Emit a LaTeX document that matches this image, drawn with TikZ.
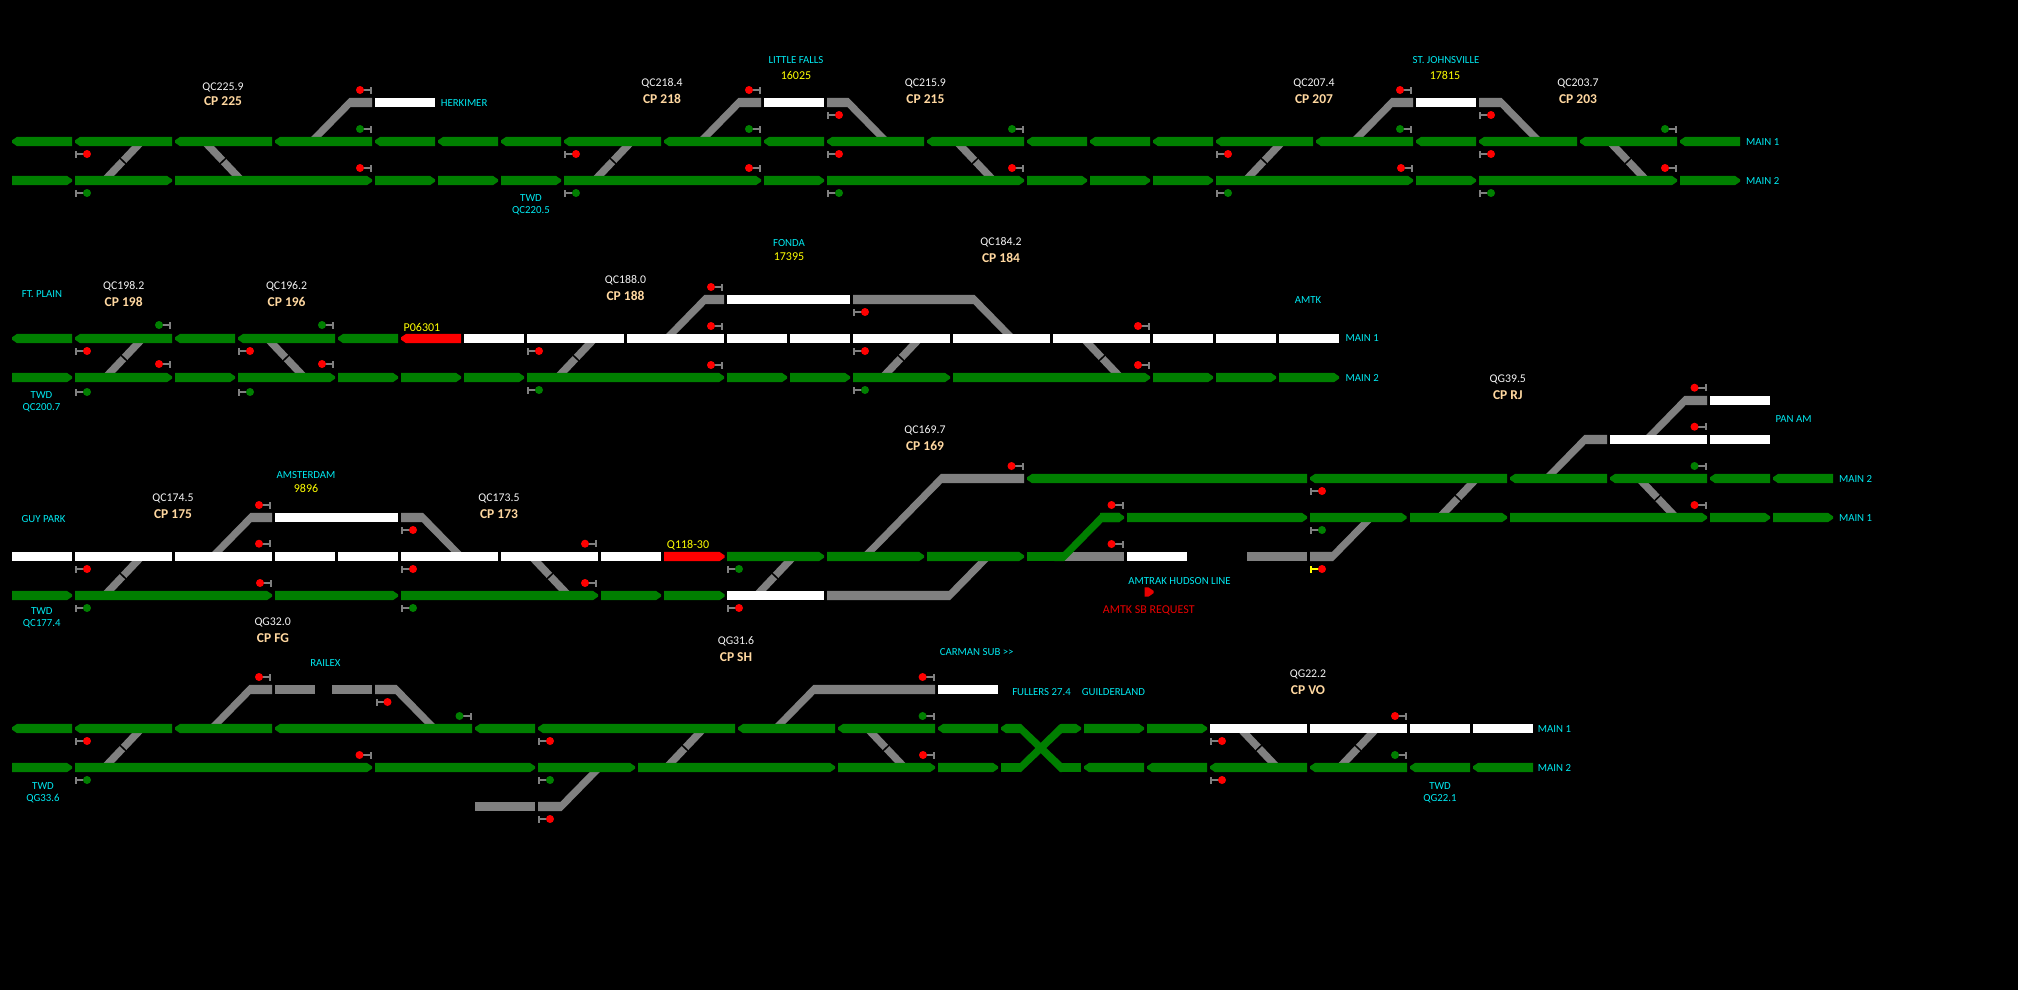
\documentclass[tikz,border=0pt]{standalone}
\usepackage{fontspec}
\setmainfont{Carlito}
\definecolor{tg}{HTML}{007F00}
\definecolor{tgy}{HTML}{808080}
\definecolor{trd}{HTML}{FF0000}
\definecolor{tw}{HTML}{FFFFFF}
\definecolor{labcy}{HTML}{00E8F0}
\definecolor{labcp}{HTML}{FFD8A0}
\definecolor{labyl}{HTML}{FFFF00}
\definecolor{labqc}{HTML}{F4F4F4}
\definecolor{labrd}{HTML}{E80000}
\newcommand\tL[4]{\fill[#4] (#1,#3-1.2)--(#1+5,#3-4.6)--(#2,#3-4.6)--(#2,#3+4.6)--(#1+5,#3+4.6)--(#1,#3+1.2)--cycle;}
\newcommand\tR[4]{\fill[#4] (#1,#3-4.6)--(#2-5,#3-4.6)--(#2,#3-1.2)--(#2,#3+1.2)--(#2-5,#3+4.6)--(#1,#3+4.6)--cycle;}
\newcommand\tF[4]{\fill[#4] (#1,#3-4.6) rectangle (#2,#3+4.6);}
\newcommand\xoF[2]{\draw[xov] (#1-18.5,#2+19.5)--(#1+18.5,#2-19.5); \draw[xgap] (#1-3,#2-2.85)--(#1+3,#2+2.85);}
\newcommand\xoB[2]{\draw[xov] (#1-18.5,#2-19.5)--(#1+18.5,#2+19.5); \draw[xgap] (#1-3,#2+2.85)--(#1+3,#2-2.85);}
% flat to the right, diagonal down-left to main
\newcommand\sUL[5]{\fill[#5] (#1-.98*#3+.98*#2-5,#3)--(#1-.6,#2-4.6)--(#4,#2-4.6)--(#4,#2+4.6)--(#1+.6,#2+4.6)--(#1-.98*#3+.98*#2+5,#3)--cycle;}
% flat to the left, diagonal down-right to main
\newcommand\sUR[5]{\fill[#5] (#4,#2-4.6)--(#1+.6,#2-4.6)--(#1+.98*#3-.98*#2+5,#3)--(#1+.98*#3-.98*#2-5,#3)--(#1-.6,#2+4.6)--(#4,#2+4.6)--cycle;}
% flat to the left, diagonal up-right to main
\newcommand\sDR[5]{\fill[#5] (#4,#2+4.6)--(#1+.6,#2+4.6)--(#1+.98*#2-.98*#3+5,#3)--(#1+.98*#2-.98*#3-5,#3)--(#1-.6,#2-4.6)--(#4,#2-4.6)--cycle;}
\newcommand\sigR[4]{\fill[#4] (#1,#2-3.5) rectangle (#1+2,#2+3.5); \fill[#4] (#1,#2-1) rectangle (#1+10,#2+1); \fill[#3] (#1+12,#2) circle[radius=4pt];}
\newcommand\sigL[4]{\fill[#4] (#1-2,#2-3.5) rectangle (#1,#2+3.5); \fill[#4] (#1-10,#2-1) rectangle (#1,#2+1); \fill[#3] (#1-12,#2) circle[radius=4pt];}
\tikzset{
  xov/.style={tgy,line width=7.5pt},
  xgap/.style={black,line width=1.5pt},
  lcy/.style={labcy,inner sep=0pt,font=\fontsize{10.8}{12}\selectfont},
  lcyw/.style={lcy,anchor=west},
  lyl/.style={labyl,inner sep=0pt,font=\fontsize{12}{13}\selectfont},
  lqc/.style={labqc,inner sep=0pt,font=\fontsize{11.8}{13}\selectfont},
  lcp/.style={labcp,inner sep=0pt,font=\bfseries\fontsize{13.5}{14}\selectfont},
  lrd/.style={labrd,inner sep=0pt,font=\fontsize{12}{13}\selectfont},
}
\begin{document}
\begin{tikzpicture}[x=1pt,y=-1pt]
\useasboundingbox (0,0) rectangle (2018,989);
\fill[black] (-6,-6) rectangle (2024,995);
%% ROW 1
\foreach \m in {123,613,1264} {\xoF{\m}{161}}
\foreach \m in {223,975,1628} {\xoB{\m}{161}}
\sUL{350}{102.5}{141.5}{372}{tgy}
\sUL{739}{102.5}{141.5}{761}{tgy}
\sUR{848}{102.5}{141.5}{827}{tgy}
\sUL{1392}{102.5}{141.5}{1413}{tgy}
\sUR{1501}{102.5}{141.5}{1479}{tgy}
\foreach \a/\b in {375/435,764/824,1416/1476} {\tF{\a}{\b}{102.5}{tw}}
\foreach \a/\b in {12/72,75/172,175/272,275/372,375/435,438/498,501/561,564/661,664/761,764/824,827/924,927/1024,1027/1087,1090/1150,1153/1213,1216/1313,1316/1413,1416/1476,1479/1577,1580/1677,1680/1740} {\tL{\a}{\b}{141.5}{tg}}
\foreach \a/\b in {12/72,75/172,175/372,375/435,438/498,501/561,564/761,764/824,827/1024,1027/1087,1090/1150,1153/1213,1216/1413,1416/1476,1479/1677,1680/1740} {\tR{\a}{\b}{180.5}{tg}}
\foreach \x in {372,761,1412} {\sigL{\x}{90}{trd}{tgy}}
\foreach \x in {827,1479} {\sigR{\x}{115}{trd}{tgy}}
\foreach \x in {372,761,1024,1412,1677} {\sigL{\x}{129}{tg}{tgy}}
\foreach \x in {75,564,827,1216,1479} {\sigR{\x}{154}{trd}{tgy}}
\foreach \x in {372,761,1024,1413,1677} {\sigL{\x}{168}{trd}{tgy}}
\foreach \x in {75,564,827,1216,1479} {\sigR{\x}{193}{tg}{tgy}}
\node[lqc] (qa1) at (223,87) {QC225.9};
\node[lcp] (cpa1) at (223,100.7) {CP 225};
\node[lcyw] (herk) at (440.6,103) {HERKIMER};
\node[lqc] (qa2) at (662,83) {QC218.4};
\node[lcp] (cpa2) at (662,98.7) {CP 218};
\node[lcy] (lfalls) at (796,59.7) {LITTLE FALLS};
\node[lyl] (nlf) at (796,75) {16025};
\node[lqc] (qa3) at (925.4,83) {QC215.9};
\node[lcp] (cpa3) at (925.4,98.7) {CP 215};
\node[lqc] (qa4) at (1314,83) {QC207.4};
\node[lcp] (cpa4) at (1314,98.7) {CP 207};
\node[lcy] (stj) at (1446,59.7) {ST. JOHNSVILLE};
\node[lyl] (nstj) at (1445,75) {17815};
\node[lqc] (qa5) at (1578,83) {QC203.7};
\node[lcp] (cpa5) at (1578,98.7) {CP 203};
\node[lcy] (twa) at (531,197.7) {TWD};
\node[lcy] (twaq) at (531,210.7) {QC220.5};
\node[lcyw] (ma1) at (1746,142.3) {MAIN 1};
\node[lcyw] (ma2) at (1746,181.3) {MAIN 2};
%% ROW 2
\foreach \m in {124,576,901} {\xoF{\m}{358}}
\foreach \m in {286,1102} {\xoB{\m}{358}}
\sUL{705}{299.5}{338.5}{724}{tgy}
\sUR{974}{299.5}{338.5}{853}{tgy}
\tF{727}{850}{299.5}{tw}
\foreach \a/\b in {12/72,75/172,175/235,238/335,338/398} {\tL{\a}{\b}{338.5}{tg}}
\tL{401}{461}{338.5}{trd}
\foreach \a/\b in {464/524,527/624,627/724,727/787,790/850,853/950,953/1050,1053/1150,1153/1213,1216/1276,1279/1339} {\tF{\a}{\b}{338.5}{tw}}
\foreach \a/\b in {12/72,75/172,175/235,238/335,338/398,401/461,464/524,527/724,727/787,790/850,853/950,953/1150,1153/1213,1216/1276,1279/1339} {\tR{\a}{\b}{377.5}{tg}}
\sigL{723}{287}{trd}{tgy}
\sigR{853}{312}{trd}{tgy}
\foreach \x in {171,334} {\sigL{\x}{325}{tg}{tgy}}
\foreach \x in {723,1150} {\sigL{\x}{326}{trd}{tgy}}
\foreach \x in {75,238,527,853} {\sigR{\x}{351}{trd}{tgy}}
\foreach \x in {171,334} {\sigL{\x}{364}{trd}{tgy}}
\foreach \x in {723,1150} {\sigL{\x}{365}{trd}{tgy}}
\foreach \x in {75,238} {\sigR{\x}{392}{tg}{tgy}}
\foreach \x in {527,853} {\sigR{\x}{390}{tg}{tgy}}
\node[lcy] (ftp) at (42,293.7) {FT. PLAIN};
\node[lqc] (qb1) at (123.7,286) {QC198.2};
\node[lcp] (cpb1) at (123.7,301.7) {CP 198};
\node[lqc] (qb2) at (286.6,286) {QC196.2};
\node[lcp] (cpb2) at (286.6,301.7) {CP 196};
\node[lqc] (qb3) at (625.5,280) {QC188.0};
\node[lcp] (cpb3) at (625.5,295.7) {CP 188};
\node[lyl] (p063) at (422,327) {P06301};
\node[lcy] (twb) at (41.5,394.7) {TWD};
\node[lcy] (twbq) at (41.5,407.7) {QC200.7};
\node[lcy] (fonda) at (789,243) {FONDA};
\node[lyl] (nfo) at (789,257) {17395};
\node[lqc] (qb4) at (1001,242.3) {QC184.2};
\node[lcp] (cpb4) at (1001,257.7) {CP 184};
\node[lcy] (amtkb) at (1308,300) {AMTK};
\node[lcyw] (mb1) at (1345.5,338.5) {MAIN 1};
\node[lcyw] (mb2) at (1345.5,377.5) {MAIN 2};
%% ROW 3
\foreach \m in {123,775} {\xoF{\m}{576}}
\xoB{550}{576}
\xoF{1458}{498}
\xoB{1657.5}{498}
\sUL{251}{517.5}{556.5}{272}{tgy}
\sUR{422.5}{517.5}{556.5}{401}{tgy}
\tF{275}{398}{517.5}{tw}
\foreach \a/\b in {12/72,75/172,175/272,275/335,338/398,401/498,501/598,601/661} {\tF{\a}{\b}{556.5}{tw}}
\tR{664}{724.5}{556.5}{trd}
\foreach \a/\b in {12/72,75/272,275/398,401/598,601/661,664/724.5} {\tR{\a}{\b}{595.5}{tg}}
\sUL{941.5}{478.5}{556.5}{1024}{tgy}
\sDR{949.5}{595.5}{556.5}{827}{tgy}
\foreach \a/\b in {727/824,827/924,927/1024} {\tR{\a}{\b}{556.5}{tg}}
\tF{727}{824}{595.5}{tw}
\tF{1027}{1124}{556.5}{tgy}
\tF{1027}{1064}{556.5}{tg}
\sUL{1102}{517.5}{561}{1120}{tg}
\tR{1100}{1124}{517.5}{tg}
\tF{1127}{1187}{556.5}{tw}
\tF{1247}{1307}{556.5}{tgy}
\sDR{1332.5}{556.5}{517.5}{1310}{tgy}
\sUL{1585}{439.5}{478.5}{1607}{tgy}
\sUL{1685}{400.5}{439.5}{1707}{tgy}
\foreach \a/\b in {1610/1707,1710/1770} {\tF{\a}{\b}{439.5}{tw}}
\tF{1710}{1770}{400.5}{tw}
\foreach \a/\b in {1027/1307,1310/1507,1510/1607,1610/1707,1710/1770,1773/1833} {\tL{\a}{\b}{478.5}{tg}}
\foreach \a/\b in {1127/1307,1310/1406.5,1410/1507,1510/1707,1710/1770,1773/1833} {\tR{\a}{\b}{517.5}{tg}}
\sigL{271}{505}{trd}{tgy}
\sigR{401}{530}{trd}{tgy}
\foreach \x in {271,597} {\sigL{\x}{543.7}{trd}{tgy}}
\foreach \x in {75,401} {\sigR{\x}{569}{trd}{tgy}}
\foreach \x in {272,597} {\sigL{\x}{583}{trd}{tgy}}
\foreach \x in {75,401} {\sigR{\x}{608}{tg}{tgy}}
\sigL{1023.5}{466}{trd}{tgy}
\sigL{1123.5}{505}{trd}{tgy}
\sigL{1123.5}{544}{trd}{tgy}
\sigR{727}{569}{tg}{tgy}
\sigR{727}{608}{trd}{tgy}
\sigR{1310}{491}{trd}{tgy}
\sigR{1310}{530}{tg}{tgy}
\sigR{1310}{569}{trd}{labyl}
\sigL{1706.5}{387.7}{trd}{tgy}
\sigL{1706.5}{426.7}{trd}{tgy}
\sigL{1706.5}{466}{tg}{tgy}
\sigL{1706.5}{505}{trd}{tgy}
\tR{1144.5}{1153.5}{592}{labrd}
\node[lcy] (guy) at (43.6,518.7) {GUY PARK};
\node[lqc] (qc1) at (173,498) {QC174.5};
\node[lcp] (cpc1) at (173,513.7) {CP 175};
\node[lcy] (amst) at (306,474.7) {AMSTERDAM};
\node[lyl] (nam) at (306,488) {9896};
\node[lqc] (qc2) at (499,498) {QC173.5};
\node[lcp] (cpc2) at (499,513.7) {CP 173};
\node[lyl] (q118) at (688,545) {Q118-30};
\node[lcy] (twc) at (41.8,610.7) {TWD};
\node[lcy] (twcq) at (41.8,623.7) {QC177.4};
\node[lqc] (qc3) at (925,429.8) {QC169.7};
\node[lcp] (cpc3) at (925,445.7) {CP 169};
\node[lqc] (qc4) at (1507.8,379) {QG39.5};
\node[lcp] (cpc4) at (1507.8,394.7) {CP RJ};
\node[lcy] (panam) at (1793.5,419.3) {PAN AM};
\node[lcyw] (mc2) at (1838.8,479.3) {MAIN 2};
\node[lcyw] (mc1) at (1838.8,518.3) {MAIN 1};
\node[lcy] (hudson) at (1179.6,580.7) {AMTRAK HUDSON LINE};
\node[lrd] (sbreq) at (1148.8,610) {AMTK SB REQUEST};
%% ROW 4
\foreach \m in {123,685,1358} {\xoF{\m}{748}}
\foreach \m in {886,1258.7} {\xoB{\m}{748}}
\sUL{250}{689.5}{728.5}{272}{tgy}
\tF{275}{315}{689.5}{tgy}
\tF{332}{372}{689.5}{tgy}
\sUR{396}{689.5}{728.5}{375}{tgy}
\sUL{814}{689.5}{728.5}{935}{tgy}
\tF{938}{998}{689.5}{tw}
\tF{475}{535}{806.5}{tgy}
\sDR{561}{806.5}{767.5}{538}{tgy}
\foreach \a/\b in {12/72,75/172,175/272,275/472,475/535,538/735,738/835,838/935,938/998} {\tL{\a}{\b}{728.5}{tg}}
\foreach \a/\b in {12/72,75/372,375/535,538/635,638/835,838/935,938/998} {\tR{\a}{\b}{767.5}{tg}}
\fill[tg] (1021,724)--(1062,763)--(1062,772)--(1060,772)--(1020,733)--(1020,724)--cycle;
\fill[tg] (1021,772)--(1062,733)--(1062,724)--(1060,724)--(1020,763)--(1020,772)--cycle;
\tL{1001}{1021}{728.5}{tg}
\tF{1001}{1021}{767.5}{tg}
\tR{1061}{1081}{728.5}{tg}
\tF{1061}{1081}{767.5}{tg}
\foreach \a/\b in {1084/1144,1147/1207} {\tR{\a}{\b}{728.5}{tg}}
\foreach \a/\b in {1210/1307,1310/1407,1410/1470,1473/1533} {\tF{\a}{\b}{728.5}{tw}}
\foreach \a/\b in {1084/1144,1147/1207,1210/1307,1310/1407,1410/1470,1473/1533} {\tL{\a}{\b}{767.5}{tg}}
\foreach \x in {271,934.6} {\sigL{\x}{677}{trd}{tgy}}
\sigR{375.5}{702}{trd}{tgy}
\foreach \x in {471.5,934.6} {\sigL{\x}{716}{tg}{tgy}}
\foreach \x in {75,538,1210} {\sigR{\x}{741}{trd}{tgy}}
\foreach \x in {371.5,935} {\sigL{\x}{755}{trd}{tgy}}
\foreach \x in {75,538} {\sigR{\x}{780}{tg}{tgy}}
\sigR{1210}{780}{trd}{tgy}
\sigR{538}{819}{trd}{tgy}
\sigL{1407}{716}{trd}{tgy}
\sigL{1407}{755}{tg}{tgy}
\node[lqc] (qd1) at (272.7,622.3) {QG32.0};
\node[lcp] (cpd1) at (273,637.7) {CP FG};
\node[lcy] (railex) at (325.4,662.7) {RAILEX};
\node[lcy] (twd) at (43,785.7) {TWD};
\node[lcy] (twdq) at (43,798.7) {QG33.6};
\node[lqc] (qd2) at (736,641.3) {QG31.6};
\node[lcp] (cpd2) at (736,656.7) {CP SH};
\node[lcy] (carman) at (976.7,651.7) {CARMAN SUB {>}{>}};
\node[lcy] (fullers) at (1041.5,691.7) {FULLERS 27.4};
\node[lcy] (guild) at (1113.5,691.7) {GUILDERLAND};
\node[lqc] (qd3) at (1308,674.3) {QG22.2};
\node[lcp] (cpd3) at (1308,689.7) {CP VO};
\node[lcyw] (md1) at (1537.7,729.3) {MAIN 1};
\node[lcyw] (md2) at (1537.7,768.3) {MAIN 2};
\node[lcy] (twe) at (1440,785.7) {TWD};
\node[lcy] (tweq) at (1440,798.7) {QG22.1};
\end{tikzpicture}
\end{document}
